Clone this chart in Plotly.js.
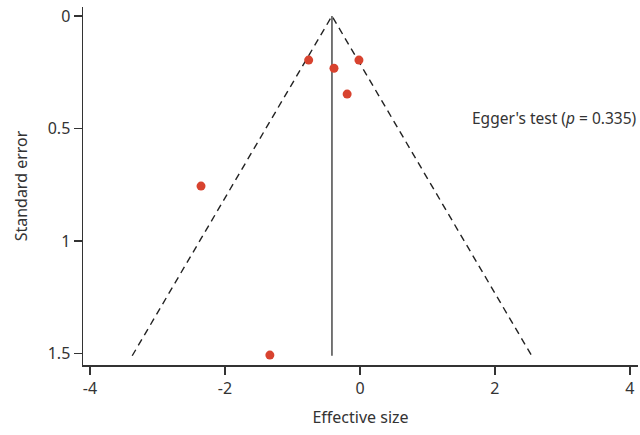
<!DOCTYPE html>
<html>
<head>
<meta charset="utf-8">
<script src="https://cdn.plot.ly/plotly-3.0.1.min.js"></script>
<style>html,body{margin:0;padding:0;background:#fff;}#chart{width:640px;height:435px;}</style>
</head>
<body>
<div id="chart"></div>
<script>
// Study points (effect size, standard error)
const effectSize = [-0.76, -0.385, -0.015, -0.19, -2.355, -1.335];
const standardError = [0.196, 0.232, 0.196, 0.347, 0.756, 1.507];
// Pooled estimate line
const pooledX = [-0.415, -0.415];
const pooledY = [0, 1.51];
// Funnel (pseudo-confidence) limits
const funnelX = [-3.375, -0.415, 2.545];
const funnelY = [1.51, 0, 1.51];
// Ticks
const xTicks = [-4, -2, 0, 2, 4];
const xTickText = ['-4', '-2', '0', '2', '4'];
const yTicks = [0, 0.5, 1, 1.5];
const yTickText = ['0', '0.5', '1', '1.5'];

const mkFont = (s) => ({family: 'Noto Sans, Open Sans, sans-serif', size: s, color: '#333'});

const traces = [
  {x: funnelX, y: funnelY, mode: 'lines', line: {color: '#222', width: 1.4, dash: '7px,5px'}, hoverinfo: 'skip'},
  {x: pooledX, y: pooledY, mode: 'lines', line: {color: '#555', width: 1.6}, hoverinfo: 'skip'},
  {x: effectSize, y: standardError, mode: 'markers', marker: {color: '#d8432f', size: 9}}
];

const layout = {
  width: 640, height: 435,
  margin: {l: 83, r: 2, t: 7, b: 70},
  paper_bgcolor: '#fff', plot_bgcolor: '#fff',
  showlegend: false,
  font: mkFont(16),
  xaxis: {
    range: [-4.104, 4.12], tickvals: xTicks, ticktext: xTickText, ticks: 'outside', ticklen: 8, tickwidth: 1.3, tickcolor: '#333',
    showline: true, linecolor: '#333', linewidth: 1.5, showgrid: false, zeroline: false,
    title: {text: 'Effective size', font: mkFont(16), standoff: 14},
    tickfont: mkFont(16)
  },
  yaxis: {
    range: [1.551, -0.04], tickvals: yTicks, ticktext: yTickText, ticks: 'outside', ticklen: 8, tickwidth: 1.3, tickcolor: '#333',
    showline: true, linecolor: '#333', linewidth: 1.5, showgrid: false, zeroline: false,
    title: {text: 'Standard error', font: mkFont(16), standoff: 16},
    tickfont: mkFont(16)
  },
  annotations: [{
    x: 1, y: 0.455, xref: 'paper', yref: 'y', xanchor: 'right', yanchor: 'middle',
    text: "Egger's test (<i>p</i> = 0.335)", showarrow: false, font: mkFont(15.5)
  }]
};

Plotly.newPlot('chart', traces, layout, {displayModeBar: false, staticPlot: true});
</script>
</body>
</html>
